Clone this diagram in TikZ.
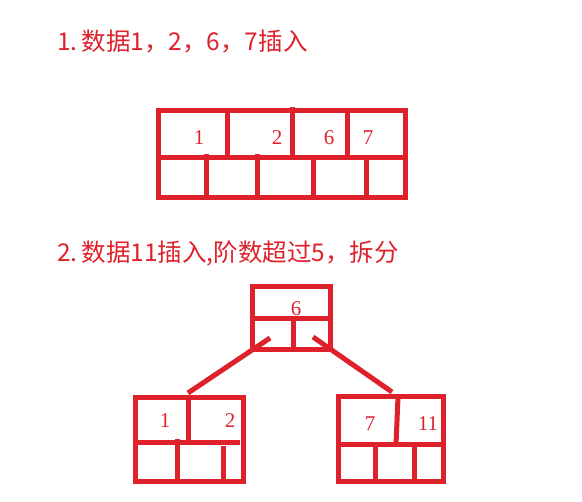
\documentclass[tikz,border=0pt]{standalone}
\usepackage{fontspec}
\setmainfont{Liberation Serif}
\newfontfamily\cjk{Noto Sans CJK SC}
\definecolor{penred}{RGB}{222,33,43}
\tikzset{
    pen/.style={draw=penred,line width=5pt},
    keybox/.style={pen,rectangle,inner sep=0pt,outer sep=0pt},
    num/.style={text=penred,font=\fontsize{21}{21}\selectfont},
    title/.style={text=penred,anchor=west,inner sep=0pt,font=\cjk\fontsize{24.5}{24.5}\selectfont}
}

\begin{document}
\begin{tikzpicture}[x=1pt,y=-1pt]
    \useasboundingbox (0,0) rectangle (582,502);

    % step 1
    \node[title] (title1) at (57,42) {1.\,数据1，2，6，7插入};
    \node[keybox,minimum width=247,minimum height=87] (full) at (281.5,154.5) {};
    \draw[pen] (158,158) -- (405,158);
    \draw[pen] (227,111) -- (227,158);
    \draw[pen] (292,107) -- (292,158);
    \draw[pen] (347,111) -- (347,158);
    \draw[pen] (206,154) -- (206,198);
    \draw[pen] (257,154) -- (257,198);
    \draw[pen] (313,158) -- (313,198);
    \draw[pen] (366,158) -- (366,198);
    \node[num] (k1) at (199,138) {1};
    \node[num] (k2) at (277,138) {2};
    \node[num] (k6) at (329,138) {6};
    \node[num] (k7) at (368,138) {7};

    % step 2
    \node[title] (title2) at (57,253) {2.\,数据11插入,阶数超过5，拆分};
    \node[keybox,minimum width=78,minimum height=63] (root) at (291,318.5) {};
    \draw[pen] (252,319) -- (330,319);
    \draw[pen] (293,319) -- (293,350);
    \node[num] (r6) at (296,309) {6};

    \node[keybox,minimum width=108,minimum height=84] (leftnode) at (189,440) {};
    \draw[pen] (135,443) -- (240,443);
    \draw[pen] (188,395) -- (188,443);
    \draw[pen] (177,439) -- (177,482);
    \draw[pen] (223,446) -- (223,482);
    \node[num] (l1) at (165,421) {1};
    \node[num] (l2) at (230,421) {2};

    \node[keybox,minimum width=105,minimum height=85] (rightnode) at (390.5,439.5) {};
    \draw[pen] (338,445) -- (443,445);
    \draw[pen] (398,397) -- (396,445);
    \draw[pen] (375,445) -- (375,482);
    \draw[pen] (414,445) -- (414,482);
    \node[num] (r7) at (370,424) {7};
    \node[num] (r11) at (428,424) {11};

    \coordinate (rootl) at (270,338);
    \coordinate (rootr) at (313,337);
    \coordinate (leftin) at (188,393);
    \coordinate (rightin) at (392,392);
    \draw[pen] (rootl) -- (leftin);
    \draw[pen] (rootr) -- (rightin);
\end{tikzpicture}
\end{document}
